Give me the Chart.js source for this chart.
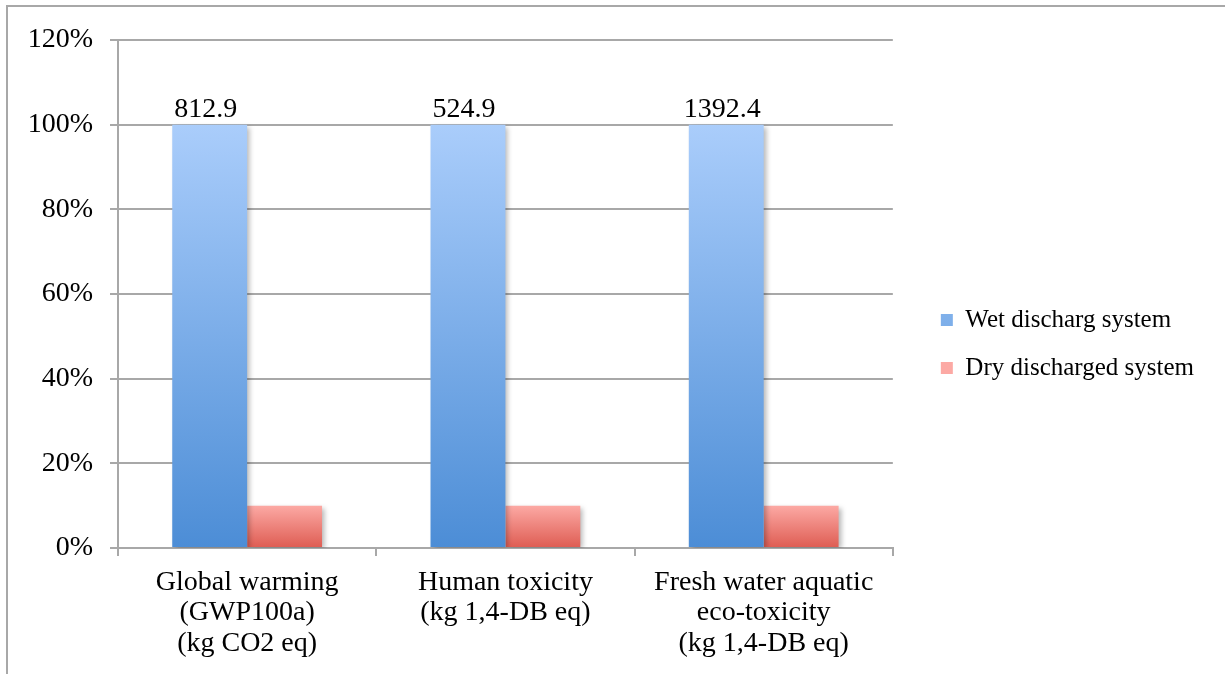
<!DOCTYPE html>
<html>
<head>
<meta charset="utf-8">
<script src="https://cdn.jsdelivr.net/npm/chart.js@4.4.1/dist/chart.umd.min.js"></script>
<style>
  html, body { margin: 0; padding: 0; background: #fff; }
  #wrap { position: relative; width: 1225px; height: 674px; overflow: hidden; }
  #frame { position: absolute; left: 6px; top: 5px; width: 1300px; height: 800px;
           border-left: 2px solid #a8a8a8; border-top: 2px solid #a8a8a8; }
  canvas { position: absolute; left: 0; top: 0; }
</style>
</head>
<body>
<div id="wrap">
  <div id="frame"></div>
  <canvas id="chart" width="1225" height="674"></canvas>
</div>
<script>
// Impact categories (multi-line axis labels)
const categories = [
  ['Global warming', '(GWP100a)', '(kg CO2 eq)'],
  ['Human toxicity', '(kg 1,4-DB eq)'],
  ['Fresh water aquatic', 'eco-toxicity', '(kg 1,4-DB eq)']
];
const seriesNames = ['Wet discharg system', 'Dry discharged system'];

// Absolute totals of the wet system, printed above its bars
const wetTotals = [812.9, 524.9, 1392.4];

// Each category is normalised to the wet system's total (= 100 %)
const wetShare = [1.00, 1.00, 1.00];
const dryShare = [0.10, 0.10, 0.10];

// Percentage axis
const yMin = 0;
const yMax = 1.2;
const yStep = 0.2;

Chart.defaults.font.family = "'Liberation Serif', 'Times New Roman', serif";
Chart.defaults.color = '#000';

// Vertical gradient spanning each bar's own height
function barFill(topColor, bottomColor, fallback) {
  return (context) => {
    const chart = context.chart;
    const y = chart.scales && chart.scales.y;
    if (!y || context.raw == null || !chart.chartArea) return fallback;
    const top = y.getPixelForValue(context.raw);
    const bottom = y.getPixelForValue(0);
    if (!isFinite(top) || !isFinite(bottom) || top === bottom) return fallback;
    const g = chart.ctx.createLinearGradient(0, top, 0, bottom);
    g.addColorStop(0, topColor);
    g.addColorStop(1, bottomColor);
    return g;
  };
}

// Soft drop shadow behind the bars
const barShadow = {
  id: 'barShadow',
  beforeDatasetDraw(chart) {
    const c = chart.ctx;
    c.save();
    c.shadowColor = 'rgba(0,0,0,0.28)';
    c.shadowBlur = 5;
    c.shadowOffsetX = 3;
    c.shadowOffsetY = 2;
  },
  afterDatasetDraw(chart) {
    chart.ctx.restore();
  }
};

// Totals written above the wet-system bars
const valueLabels = {
  id: 'valueLabels',
  afterDatasetsDraw(chart) {
    const meta = chart.getDatasetMeta(0);
    const c = chart.ctx;
    c.save();
    c.font = "28px 'Liberation Serif', serif";
    c.fillStyle = '#000';
    c.textAlign = 'center';
    c.textBaseline = 'alphabetic';
    meta.data.forEach((bar, i) => {
      c.fillText(wetTotals[i].toFixed(1), bar.x - 4, bar.y - 8);
    });
    c.restore();
  }
};

const gridColor = '#a8a8a8';

new Chart(document.getElementById('chart'), {
  type: 'bar',
  data: {
    labels: categories,
    datasets: [
      {
        label: seriesNames[0],
        data: wetShare,
        backgroundColor: barFill('#aacdfb', '#4c8dd6', '#74a8e8'),
        categoryPercentage: 0.58,
        barPercentage: 1.0
      },
      {
        label: seriesNames[1],
        data: dryShare,
        backgroundColor: barFill('#fca9a4', '#de5c52', '#ee8079'),
        categoryPercentage: 0.58,
        barPercentage: 1.0
      }
    ]
  },
  options: {
    responsive: false,
    animation: false,
    layout: { padding: { top: 14, bottom: 0, left: 0, right: 21 } },
    plugins: {
      // empty spacer above the plot area only (keeps the legend centred on the page)
      title: {
        display: true,
        text: '',
        fullSize: false,
        font: { size: 10, lineHeight: 1.2 },
        padding: { top: 0, bottom: 14 }
      },
      legend: {
        position: 'right',
        maxWidth: 420,
        labels: {
          boxWidth: 12,
          boxHeight: 12,
          padding: 23,
          color: '#000',
          font: { size: 25 }
        }
      },
      tooltip: { enabled: false }
    },
    scales: {
      x: {
        grid: { drawOnChartArea: false, drawTicks: true, tickLength: 8, color: gridColor, lineWidth: 2, offset: true },
        border: { color: gridColor, width: 2 },
        ticks: { font: { size: 28, lineHeight: 1.09 }, padding: 11, maxRotation: 0, autoSkip: false },
        afterFit(scale) { scale.height = 126; }
      },
      y: {
        min: yMin,
        max: yMax,
        ticks: {
          stepSize: yStep,
          font: { size: 28 },
          padding: 17,
          callback: (v) => Math.round(v * 100) + '%'
        },
        grid: { color: gridColor, lineWidth: 2, tickLength: 8 },
        border: { color: gridColor, width: 2 },
        afterFit(scale) { scale.width = 118; }
      },
      gap: {
        type: 'linear',
        position: 'right',
        display: true,
        grid: { display: false },
        border: { display: false },
        ticks: { display: false },
        afterFit(scale) { scale.width = 25; }
      }
    }
  },
  plugins: [barShadow, valueLabels]
});
</script>
</body>
</html>
